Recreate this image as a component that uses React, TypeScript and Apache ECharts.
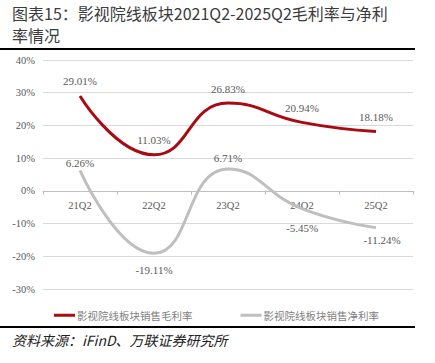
import React, { useEffect, useRef } from "react";
import * as echarts from "echarts";

const categories = ["21Q2", "22Q2", "23Q2", "24Q2", "25Q2"];
const grossMargin = [29.01, 11.03, 26.83, 20.94, 18.18];
const netMargin = [6.26, -19.11, 6.71, -5.45, -11.24];
const seriesNames = ["影视院线板块销售毛利率", "影视院线板块销售净利率"];
const titleLines = ["图表15：影视院线板块2021Q2-2025Q2毛利率与净利", "率情况"];
const sourceText = "资料来源：iFinD、万联证券研究所";
const yMin = -30;
const yMax = 40;

// label placement tweaks for the net margin series (position, distance, x offset)
const netLabelPlacement: [string, number, number][] = [
  ["top", 2, 0],
  ["bottom", 11, 0],
  ["top", 5, 0],
  ["bottom", 14, 0],
  ["bottom", 7, 6],
];

const LABEL_FONT = "'Liberation Serif', 'DejaVu Serif', serif";
const CJK_FONT = "'Noto Sans CJK SC', sans-serif";

const W = 435;
const H = 363;
const GRID = { left: 43, right: 22, top: 60, bottom: 74 };

export default function App() {
  const ref = useRef<HTMLDivElement>(null);
  useEffect(() => {
    if (!ref.current) return;
    const chart = echarts.init(ref.current, undefined, { renderer: "svg" });
    const fmt = (p: any) => p.value.toFixed(2) + "%";
    const gridH = H - GRID.top - GRID.bottom;
    const zeroOffset = -((0 - yMin) / (yMax - yMin)) * gridH;
    chart.setOption({
      animation: false,
      backgroundColor: "#ffffff",
      grid: GRID,
      legend: {
        left: 54,
        top: 310,
        padding: 0,
        itemWidth: 21,
        itemHeight: 3,
        itemGap: 48,
        icon: "rect",
        textStyle: { color: "#7F7F7F", fontSize: 10.5, fontFamily: CJK_FONT, padding: [0, 0, 0, -3] },
        data: seriesNames,
      },
      xAxis: {
        type: "category",
        data: categories,
        position: "bottom",
        offset: zeroOffset,
        axisLine: { onZero: false, lineStyle: { color: "#BFBFBF", width: 1 } },
        axisTick: { show: true, length: 4, lineStyle: { color: "#BFBFBF" } },
        axisLabel: { color: "#595959", fontSize: 10.5, fontFamily: LABEL_FONT, margin: 9 },
      },
      yAxis: {
        type: "value",
        min: yMin,
        max: yMax,
        interval: 10,
        axisLine: { show: false },
        axisTick: { show: false },
        splitLine: { lineStyle: { color: "#D9D9D9", width: 1 } },
        axisLabel: { color: "#595959", fontSize: 10.5, fontFamily: LABEL_FONT, margin: 8, formatter: "{value}%" },
      },
      series: [
        {
          name: seriesNames[0],
          type: "line",
          smooth: 0.5,
          showSymbol: true,
          symbol: "circle",
          symbolSize: 0.01,
          lineStyle: { color: "#A80B12", width: 3 },
          itemStyle: { color: "#A80B12" },
          data: grossMargin,
          label: {
            show: true,
            position: "top",
            distance: 9,
            color: "#595959",
            fontSize: 11,
            fontFamily: LABEL_FONT,
            formatter: fmt,
          },
        },
        {
          name: seriesNames[1],
          type: "line",
          smooth: 0.5,
          showSymbol: true,
          symbol: "circle",
          symbolSize: 0.01,
          lineStyle: { color: "#BFBFBF", width: 3 },
          itemStyle: { color: "#BFBFBF" },
          data: netMargin.map((v, i) => ({
            value: v,
            label: {
              position: netLabelPlacement[i][0],
              distance: netLabelPlacement[i][1],
              offset: [netLabelPlacement[i][2], 0],
            },
          })),
          label: {
            show: true,
            color: "#595959",
            fontSize: 11,
            fontFamily: LABEL_FONT,
            formatter: fmt,
          },
        },
      ],
      graphic: [
        {
          type: "text",
          left: 12,
          top: 5,
          style: { text: titleLines[0], fill: "#3C3C3C", font: `16px ${CJK_FONT}` },
        },
        {
          type: "text",
          left: 12,
          top: 27,
          style: { text: titleLines[1], fill: "#3C3C3C", font: `16px ${CJK_FONT}` },
        },
        {
          type: "rect",
          shape: { x: 0, y: 48, width: 415, height: 2 },
          style: { fill: "#000000" },
        },
        {
          type: "rect",
          shape: { x: 0, y: 326, width: 415, height: 2 },
          style: { fill: "#000000" },
        },
        {
          type: "text",
          left: 12,
          top: 333,
          style: { text: sourceText, fill: "#222222", font: `italic 14px ${CJK_FONT}` },
        },
      ],
    });
    return () => chart.dispose();
  }, []);
  return (
    <div
      ref={ref}
      style={{ position: "fixed", left: 0, top: 0, width: W, height: H, background: "#fff" }}
    />
  );
}
